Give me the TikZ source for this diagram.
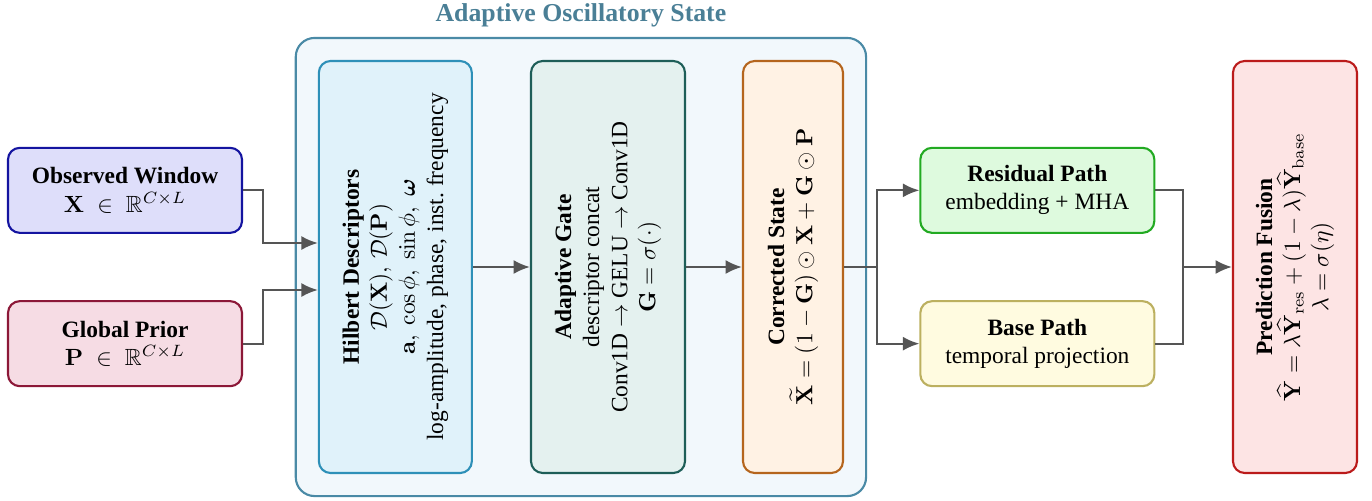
\documentclass[tikz,border=0pt]{standalone}
\usepackage{amsmath,amssymb}
\usepackage[no-math]{fontspec}
\setmainfont{Liberation Serif}
\usetikzlibrary{arrows.meta,positioning,fit,calc,backgrounds}
\definecolor{obsfill}{HTML}{DEDEFA}
\definecolor{obsborder}{HTML}{1414A0}
\definecolor{priorfill}{HTML}{F6DCE4}
\definecolor{priorborder}{HTML}{8C1838}
\definecolor{zonefill}{HTML}{F2F8FC}
\definecolor{zoneborder}{HTML}{4A8AA6}
\definecolor{zonetitle}{HTML}{4A7F96}
\definecolor{hilbfill}{HTML}{E0F2FA}
\definecolor{hilbborder}{HTML}{2E90B8}
\definecolor{gatefill}{HTML}{E4F1EF}
\definecolor{gateborder}{HTML}{1E5E58}
\definecolor{corrfill}{HTML}{FFF2E4}
\definecolor{corrborder}{HTML}{B5651D}
\definecolor{resfill}{HTML}{DEFADE}
\definecolor{resborder}{HTML}{22AA22}
\definecolor{basefill}{HTML}{FFFBE0}
\definecolor{baseborder}{HTML}{BCB060}
\definecolor{fusfill}{HTML}{FDE4E4}
\definecolor{fusborder}{HTML}{BB1B1B}
\definecolor{arrowc}{HTML}{555555}

\begin{document}
\begin{tikzpicture}[
  font=\normalsize,
  box/.style={
    draw=#1,
    line width=0.9pt,
    rounded corners=5pt,
    align=center,
    minimum width=3.51cm,
    minimum height=1.275cm,
    inner sep=3pt,
    text=black
  },
  tallbox/.style={
    box=#1,
    rotate=90,
    minimum width=6.18cm
  },
  zone/.style={
    draw=zoneborder,
    fill=zonefill,
    line width=0.9pt,
    rounded corners=8pt,
    inner sep=0.33cm
  },
  arr/.style={
    -{Latex[length=7pt,width=6pt]},
    line width=0.9pt,
    draw=arrowc
  },
  wire/.style={
    line width=0.9pt,
    draw=arrowc
  }
]
\useasboundingbox (0,4.005) rectangle (20.58,-3.495);

% --- Inputs ---
\node[box=obsborder, fill=obsfill] (obs) at (1.875,1.15)
  {\textbf{Observed Window}\\$\mathbf{X}\;\in\;\mathbb{R}^{C\times L}$};
\node[box=priorborder, fill=priorfill] (prior) at (1.875,-1.15)
  {\textbf{Global Prior}\\$\mathbf{P}\;\in\;\mathbb{R}^{C\times L}$};

% --- Adaptive oscillatory state ---
\node[tallbox=hilbborder, fill=hilbfill, minimum height=2.295cm] (hilb) at (5.93,0)
  {\textbf{Hilbert Descriptors}\\$\mathcal{D}(\mathbf{X}),\,\mathcal{D}(\mathbf{P})$\\
   $\mathbf{a},\ \cos\phi,\ \sin\phi,\ \boldsymbol{\omega}$\\log-amplitude, phase, inst.\ frequency};
\node[tallbox=gateborder, fill=gatefill, minimum height=2.31cm] (gate) at (9.12,0)
  {\textbf{Adaptive Gate}\\descriptor concat\\Conv1D $\rightarrow$ GELU $\rightarrow$ Conv1D\\
   $\mathbf{G}=\sigma(\cdot)$};
\node[tallbox=corrborder, fill=corrfill, minimum height=1.5cm] (corr) at (11.895,0)
  {\textbf{Corrected State}\\
   $\widetilde{\mathbf{X}}=(1-\mathbf{G})\odot\mathbf{X}+\mathbf{G}\odot\mathbf{P}$};

\begin{scope}[on background layer]
  \node[zone, fit=(hilb)(corr)] (state) {};
\end{scope}
\node[font=\fontsize{11}{13}\selectfont\bfseries, text=zonetitle, above=0.02cm of state.north] (title)
  {Adaptive Oscillatory State};

% --- Paths and fusion ---
\node[box=resborder, fill=resfill] (res) at (15.56,1.15)
  {\textbf{Residual Path}\\embedding + MHA};
\node[box=baseborder, fill=basefill] (base) at (15.56,-1.15)
  {\textbf{Base Path}\\temporal projection};
\node[tallbox=fusborder, fill=fusfill, minimum height=1.86cm] (fus) at (19.425,0)
  {\textbf{Prediction Fusion}\\
   $\widehat{\mathbf{Y}}=\lambda\widehat{\mathbf{Y}}_{\mathrm{res}}+(1-\lambda)\widehat{\mathbf{Y}}_{\mathrm{base}}$\\
   $\lambda=\sigma(\eta)$};

% --- Connectors ---
\draw[arr] (obs.east) -- ++(0.3,0) |- ([yshift=0.36cm]hilb.north);
\draw[arr] (prior.east) -- ++(0.3,0) |- ([yshift=-0.345cm]hilb.north);
\draw[arr] (hilb) -- (gate);
\draw[arr] (gate) -- (corr);

\coordinate (split) at ([xshift=0.5cm]corr.south);
\draw[wire] (corr.south) -- (split);
\draw[arr] (split) |- (res.west);
\draw[arr] (split) |- (base.west);

\coordinate (join) at ($(res.east)!0.5!(base.east)+(0.42,0)$);
\draw[wire] (res.east) -| (join);
\draw[wire] (base.east) -| (join);
\draw[arr] (join) -- (fus);

\end{tikzpicture}
\end{document}
